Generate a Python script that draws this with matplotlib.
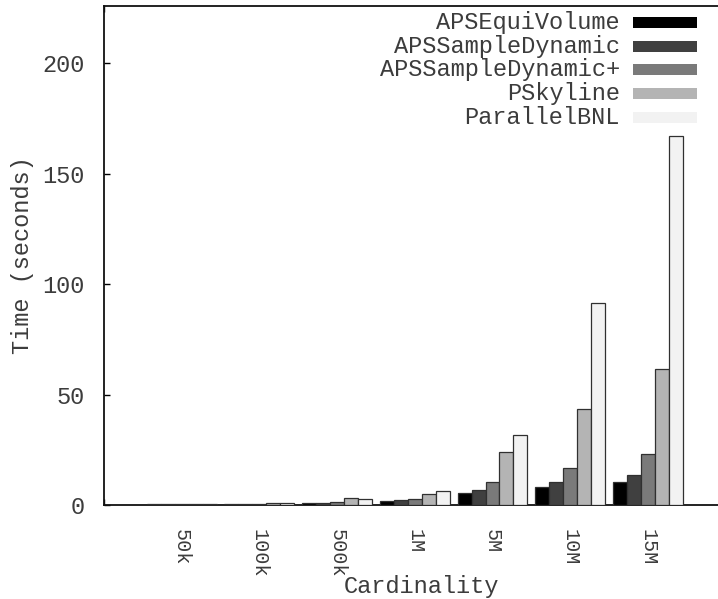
import numpy as np
import matplotlib
matplotlib.use("Agg")
import matplotlib.pyplot as plt
import matplotlib.transforms as mtransforms
from matplotlib.patches import Rectangle

plt.rcParams["font.family"] = ["Liberation Mono", "DejaVu Sans Mono"]

cardinalities = ["50k", "100k", "500k", "1M", "5M", "10M", "15M"]
methods = ["APSEquiVolume", "APSSampleDynamic", "APSSampleDynamic+", "PSkyline", "ParallelBNL"]

aps_equi = [0.3, 0.3, 0.9, 1.8, 5.6, 8.3, 10.5]
aps_dyn = [0.3, 0.35, 1.1, 2.4, 6.6, 10.5, 13.6]
aps_dyn_plus = [0.35, 0.4, 1.5, 2.9, 10.3, 16.6, 22.9]
pskyline = [0.45, 0.8, 3.2, 5.2, 24.1, 43.3, 61.8]
parallel_bnl = [0.4, 0.7, 2.9, 6.3, 31.7, 91.3, 167.0]

series = [aps_equi, aps_dyn, aps_dyn_plus, pskyline, parallel_bnl]
colors = ["#000000", "#404040", "#7a7a7a", "#b4b4b4", "#f2f2f2"]
text_color = "#3c3c3c"

W, H = 718, 599
fig = plt.figure(figsize=(W / 100, H / 100), dpi=100)
# right border of the plot lies just outside the picture
ax = fig.add_axes([104 / W, 1 - 505 / H, 621.6 / W, 499 / H])

x = np.arange(1, len(cardinalities) + 1)
bw = 0.18
for j, (vals, col) in enumerate(zip(series, colors)):
    ax.bar(x + (j - 2) * bw, vals, width=bw, color=col, edgecolor="#303030",
           linewidth=0.9, zorder=3)

ax.set_xlim(0, 8)
ax.set_ylim(0, 226)

ax.set_xticks(x)
ax.set_xticklabels(cardinalities, rotation=270, fontsize=14.5, color=text_color)
shift = mtransforms.ScaledTranslation(-4 / 100, 0, fig.dpi_scale_trans)
for lbl in ax.get_xticklabels():
    lbl.set_transform(lbl.get_transform() + shift)
ax.set_xticks([0, 2, 4, 6, 8], minor=True)
ax.tick_params(axis="x", which="major", length=0, pad=17)
ax.tick_params(axis="x", which="minor", direction="in", length=4, width=1,
               top=True, bottom=True)

ax.set_yticks([0, 50, 100, 150, 200])
ax.tick_params(axis="y", direction="in", length=4, width=1, pad=14,
               labelsize=17, labelcolor=text_color, right=True)

for s in ax.spines.values():
    s.set_linewidth(1.3)
    s.set_color("#111111")

fig.text(23 / W, 1 - 255 / H, "Time (seconds)", rotation=90, ha="center",
         va="center", fontsize=17, color=text_color)
fig.text(421 / W, 1 - 586 / H, "Cardinality", ha="center", va="center",
         fontsize=17, color=text_color)

# legend, gnuplot style: right-aligned text followed by a filled key
row_y = [22.7, 46.3, 69.9, 93.5, 117.1]
for name, col, yy in zip(methods, colors, row_y):
    fig.text(620 / W, 1 - yy / H, name, ha="right", va="center",
             fontsize=17, color=text_color)
    fig.patches.append(Rectangle((633 / W, 1 - (yy + 5.5) / H), 64 / W, 11 / H,
                                 transform=fig.transFigure, facecolor=col,
                                 edgecolor="none", zorder=5))

fig.savefig("out.png", dpi=100)
